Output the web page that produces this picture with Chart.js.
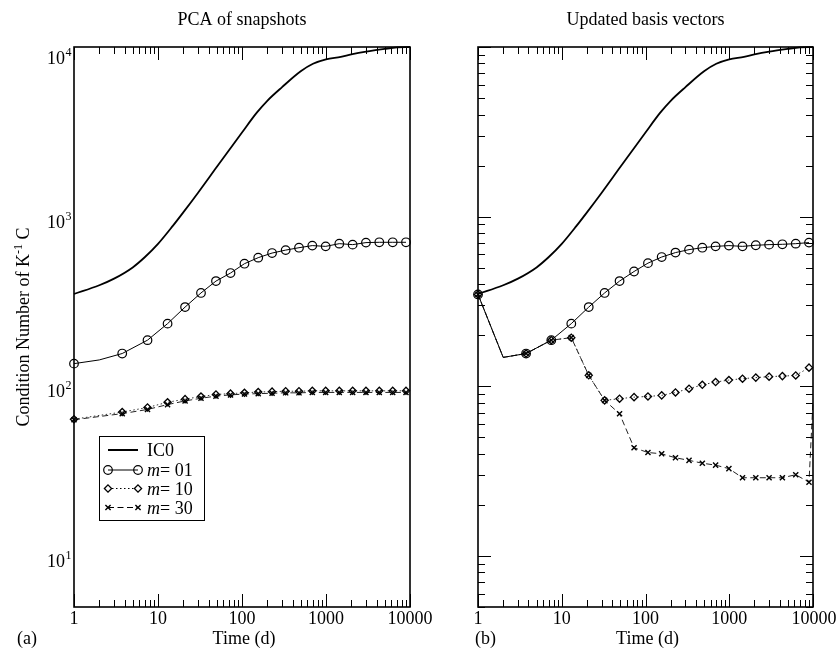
<!DOCTYPE html>
<html>
<head>
<meta charset="utf-8">
<script src="https://cdn.jsdelivr.net/npm/chart.js@4.4.0/dist/chart.umd.min.js"></script>
<style>
  body { margin: 0; background: #fff; }
  #wrap { position: relative; width: 836px; height: 654px; }
  canvas { position: absolute; left: 0; top: 0; }
</style>
</head>
<body>
<div id="wrap">
  <canvas id="left" width="836" height="654"></canvas>
  <canvas id="right" width="836" height="654"></canvas>
</div>
<script>
// times (d)
var tIC0 = [1, 2, 3, 5, 7, 10, 15, 20, 30, 50, 70, 100, 150, 200, 300, 500, 700, 1000, 1500, 2000, 3000, 5000, 7000, 10000];
var ic0  = [350, 394, 431, 502, 578, 691, 882, 1060, 1384, 1960, 2462, 3133, 4100, 4820, 5800, 7190, 7960, 8450, 8750, 9050, 9400, 9750, 9950, 10000];

var tMark = [1, 3.75, 7.5, 13, 21, 32.5, 49, 73, 107, 156, 228, 331, 477, 687, 991, 1440, 2075, 2990, 4310, 6220, 8960];
var tStep = [1, 2, 3.75, 7.5, 13, 21, 32.5, 49, 73, 107, 156, 228, 331, 477, 687, 991, 1440, 2075, 2990, 4310, 6220, 8960];
var tStepEnd = [1, 2, 3.75, 7.5, 13, 21, 32.5, 49, 73, 107, 156, 228, 331, 477, 687, 991, 1440, 2075, 2990, 4310, 6220, 8960, 10000];

// (a) PCA of snapshots
var a01 = [136, 143, 156, 187, 234, 293, 355, 417, 465, 528, 573, 610, 635, 656, 675, 668, 693, 684, 703, 706, 706, 706];
var a10 = [64, 70.5, 75, 80.5, 84, 87, 89.5, 90.5, 91.5, 92.5, 93, 93.5, 93.5, 94, 94, 94, 94, 94, 94, 94, 94];
var a30 = [63.5, 69, 73, 78, 82, 85, 87.5, 89, 90, 90.5, 91, 91.5, 91.5, 92, 92, 92, 92, 92, 92, 92, 92];

// (b) Updated basis vectors
var b01 = [348, 148, 156, 187, 234, 293, 355, 417, 475, 532, 578, 614, 639, 656, 668, 675, 668, 678, 684, 687, 693, 703];
var b10 = [348, 148, 156, 187, 193.5, 116, 82.6, 84.5, 86.3, 87.1, 88.4, 92, 96.8, 102, 105.9, 108.8, 110.9, 112.5, 114, 114.8, 115.9, 128.8];
var b30 = [348, 148, 156, 187, 193.5, 116, 82.6, 68.9, 43.4, 40.7, 40, 37.9, 36.6, 35.2, 34.3, 32.7, 28.9, 28.9, 28.9, 28.9, 30.1, 27.2, 82];

var xTicks = [1, 10, 100, 1000, 10000];
var xTickLabels = ['1', '10', '100', '1000', '10000'];
var yTicks = [10, 100, 1000, 10000];
var yTickExp = ['1', '2', '3', '4'];
var noMarkAt = [2, 10000];

var SERIF = '"Liberation Serif", "DejaVu Serif", serif';

function pts(ts, vs) {
  return ts.map(function (t, i) { return { x: t, y: vs[i] }; });
}
function markRadius(r) {
  return function (c) { return (c.raw && noMarkAt.indexOf(c.raw.x) >= 0) ? 0 : r; };
}

function ic0Set(d) {
  return { data: d, borderColor: '#000', borderWidth: 1.8, pointRadius: 0, cubicInterpolationMode: 'monotone', clip: false };
}
function m01Set(d) {
  return { data: d, borderColor: '#000', borderWidth: 1, pointStyle: 'circle', pointRadius: markRadius(4.3),
    pointBorderWidth: 1.2, pointBorderColor: '#000', pointBackgroundColor: 'rgba(0,0,0,0)', clip: false };
}
function m10Set(d) {
  return { data: d, borderColor: '#333', borderWidth: 1, borderDash: [1.5, 2.5], pointStyle: 'rectRot',
    pointRadius: markRadius(3.6), pointBorderWidth: 1.3, pointBorderColor: '#000', pointBackgroundColor: 'rgba(0,0,0,0)', clip: false };
}
function m30Set(d) {
  return { data: d, borderColor: '#222', borderWidth: 1, borderDash: [6, 3.5], pointStyle: 'crossRot',
    pointRadius: markRadius(3.6), pointBorderWidth: 1.4, pointBorderColor: '#000', clip: false };
}

function line(ctx, x1, y1, x2, y2) {
  ctx.beginPath(); ctx.moveTo(x1, y1); ctx.lineTo(x2, y2); ctx.stroke();
}

function drawLegend(ctx) {
  var bx = 99, by = 436, bw = 105, bh = 84;
  ctx.fillStyle = '#fff'; ctx.fillRect(bx, by, bw, bh);
  ctx.strokeStyle = '#000'; ctx.lineWidth = 1;
  ctx.strokeRect(bx + 0.5, by + 0.5, bw, bh);
  var rows = [450, 470, 488.5, 507.5];
  var x1 = 108, x2 = 138, tx = 147;
  // IC0
  ctx.lineWidth = 2; line(ctx, x1, rows[0], x2, rows[0]);
  // m=01
  ctx.lineWidth = 1; line(ctx, x1, rows[1], x2, rows[1]);
  [x1, x2].forEach(function (x) { ctx.beginPath(); ctx.arc(x, rows[1], 4.3, 0, Math.PI * 2); ctx.lineWidth = 1.2; ctx.stroke(); });
  // m=10
  ctx.setLineDash([1.5, 2.5]); ctx.lineWidth = 1; line(ctx, x1 + 4, rows[2], x2 - 4, rows[2]); ctx.setLineDash([]);
  [x1, x2].forEach(function (x) {
    ctx.beginPath(); ctx.moveTo(x, rows[2] - 3.6); ctx.lineTo(x + 3.6, rows[2]); ctx.lineTo(x, rows[2] + 3.6); ctx.lineTo(x - 3.6, rows[2]); ctx.closePath();
    ctx.lineWidth = 1.3; ctx.stroke();
  });
  // m=30
  ctx.setLineDash([6, 3.5]); ctx.lineWidth = 1; line(ctx, x1, rows[3], x2, rows[3]); ctx.setLineDash([]);
  [x1, x2].forEach(function (x) {
    var r = 2.6; ctx.lineWidth = 1.4;
    line(ctx, x - r, rows[3] - r, x + r, rows[3] + r); line(ctx, x - r, rows[3] + r, x + r, rows[3] - r);
  });
  ctx.fillStyle = '#000'; ctx.textAlign = 'left'; ctx.textBaseline = 'alphabetic';
  ctx.font = '18px ' + SERIF; ctx.fillText('IC0', tx, rows[0] + 6);
  ['01', '10', '30'].forEach(function (s, i) {
    var y = rows[i + 1] + 6;
    ctx.font = 'italic 18px ' + SERIF; ctx.fillText('m', tx, y);
    var w = ctx.measureText('m').width;
    ctx.font = '18px ' + SERIF; ctx.fillText('= ' + s, tx + w, y);
  });
}

var framePlugin = {
  id: 'frame',
  afterDatasetsDraw: function (chart, args, o) {
    var ctx = chart.ctx, a = chart.chartArea, xs = chart.scales.x, ys = chart.scales.y;
    ctx.save();
    ctx.strokeStyle = '#000';
    ctx.lineWidth = 1;
    // x ticks, inward on bottom and top
    for (var dec = 1; dec <= 10000; dec *= 10) {
      for (var k = 1; k <= 9; k++) {
        var v = dec * k;
        if (v > 10000) break;
        var px = Math.round(xs.getPixelForValue(v)) + 0.5;
        var len = k === 1 ? 13 : 7;
        line(ctx, px, a.bottom, px, a.bottom - len);
        line(ctx, px, a.top, px, a.top + len);
      }
    }
    // y ticks (panel b), inward on both sides
    if (o.yTicks) {
      for (var d = 1; d <= 10000; d *= 10) {
        for (var j = 1; j <= 9; j++) {
          var vy = d * j;
          if (vy < 5 || vy > 10000) continue;
          var py = Math.round(ys.getPixelForValue(vy)) + 0.5;
          var ly = j === 1 ? 13 : 7;
          line(ctx, a.left, py, a.left + ly, py);
          line(ctx, a.right, py, a.right - ly, py);
        }
      }
    }
    // frame
    ctx.lineWidth = 1.6;
    ctx.strokeRect(a.left, a.top, a.right - a.left, a.bottom - a.top);

    ctx.fillStyle = '#000';
    ctx.textBaseline = 'alphabetic';
    ctx.font = '18px ' + SERIF;
    // x tick labels
    ctx.textAlign = 'center';
    xTicks.forEach(function (t, i) {
      var x = xs.getPixelForValue(t);
      if (i === xTicks.length - 1) x += o.lastShift || 0;
      ctx.fillText(xTickLabels[i], x, 624);
    });
    // y tick labels (panel a)
    if (o.yLabels) {
      yTicks.forEach(function (t, i) {
        var y = Math.max(ys.getPixelForValue(t) + 11, a.top + 17);
        ctx.font = '18px ' + SERIF; ctx.textAlign = 'right';
        ctx.fillText('10', 65, y);
        ctx.font = '12px ' + SERIF; ctx.textAlign = 'left';
        ctx.fillText(yTickExp[i], 65.5, y - 8);
      });
      // y title
      ctx.save();
      ctx.translate(29, (a.top + a.bottom) / 2);
      ctx.rotate(-Math.PI / 2);
      ctx.font = '18px ' + SERIF;
      var s1 = 'Condition Number of K', s3 = ' C';
      var w1 = ctx.measureText(s1).width, w3 = ctx.measureText(s3).width;
      ctx.font = '12px ' + SERIF;
      var w2 = ctx.measureText('-1').width;
      var x0 = -(w1 + w2 + w3) / 2;
      ctx.textAlign = 'left';
      ctx.font = '18px ' + SERIF; ctx.fillText(s1, x0, 0);
      ctx.font = '12px ' + SERIF; ctx.fillText('-1', x0 + w1, -7);
      ctx.font = '18px ' + SERIF; ctx.fillText(s3, x0 + w1 + w2, 0);
      ctx.restore();
    }
    ctx.font = '18px ' + SERIF;
    ctx.textAlign = 'center';
    var cx = (a.left + a.right) / 2;
    ctx.fillText(o.title, cx, 25);
    ctx.fillText('Time (d)', cx + 2, 644);
    ctx.textAlign = 'left';
    ctx.fillText(o.tag, o.tagX, 644);
    if (o.legend) drawLegend(ctx);
    ctx.restore();
  }
};

function makeChart(id, pad, datasets, frameOpts) {
  return new Chart(document.getElementById(id), {
    type: 'line',
    data: { datasets: datasets },
    options: {
      responsive: false,
      animation: false,
      devicePixelRatio: 1,
      layout: { padding: pad },
      elements: { line: { tension: 0 } },
      plugins: { legend: { display: false }, tooltip: { enabled: false }, frame: frameOpts },
      scales: {
        x: { type: 'logarithmic', min: 1, max: 10000, display: false },
        y: { type: 'logarithmic', min: 5, max: 10000, display: false }
      }
    },
    plugins: [framePlugin]
  });
}

makeChart('left', { left: 74, top: 47, right: 426, bottom: 47 }, [
  ic0Set(pts(tIC0, ic0)),
  m01Set(pts(tStep, a01)),
  m10Set(pts(tMark, a10)),
  m30Set(pts(tMark, a30))
], { title: 'PCA of snapshots', tag: '(a)', tagX: 17, yLabels: true, yTicks: false, legend: true, lastShift: 0 });

makeChart('right', { left: 478, top: 47, right: 23, bottom: 47 }, [
  ic0Set(pts(tIC0, ic0)),
  m01Set(pts(tStep, b01)),
  m10Set(pts(tStep, b10)),
  m30Set(pts(tStepEnd, b30))
], { title: 'Updated basis vectors', tag: '(b)', tagX: 475, yLabels: false, yTicks: true, legend: false, lastShift: 1 });
</script>
</body>
</html>
